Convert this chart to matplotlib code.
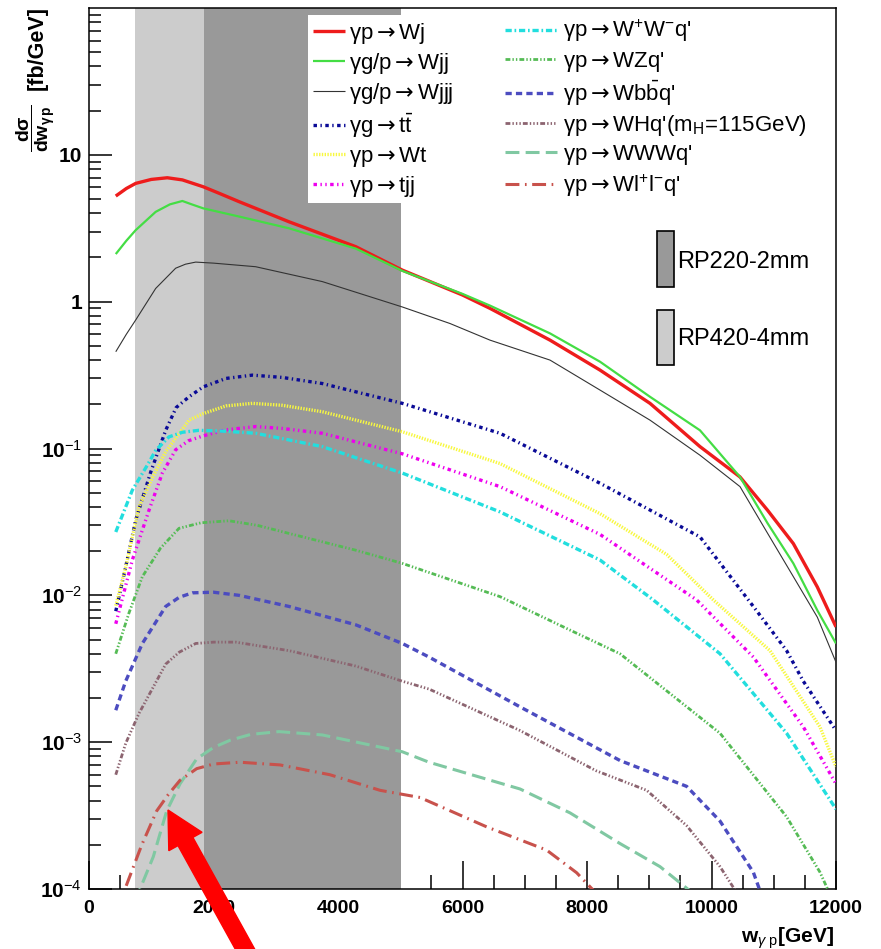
import matplotlib
matplotlib.use('Agg')
import matplotlib.pyplot as plt
from matplotlib.patches import Rectangle, FancyArrow
from matplotlib.transforms import IdentityTransform
from matplotlib.ticker import FixedLocator, FixedFormatter, MultipleLocator, LogLocator, NullFormatter

plt.rcParams['font.family'] = ['Liberation Sans', 'DejaVu Sans']
plt.rcParams['mathtext.fontset'] = 'custom'
plt.rcParams['mathtext.rm'] = 'Liberation Sans'
plt.rcParams['mathtext.it'] = 'Liberation Sans:italic'
plt.rcParams['mathtext.bf'] = 'Liberation Sans:bold'
plt.rcParams['mathtext.sf'] = 'DejaVu Sans'
plt.rcParams['lines.scale_dashes'] = False

# ---------------- data ----------------
w_wj = [430, 600, 750, 1000, 1258, 1500, 1836, 2100, 2410, 3213, 4284, 5034, 6000, 6442, 7406, 8209, 9012, 9815, 10458, 10900, 11315, 11700, 12000]
v_wj = [5.24, 5.9, 6.39, 6.8, 6.98, 6.75, 6.06, 5.45, 4.8, 3.50, 2.37, 1.64, 1.11, 0.90, 0.547, 0.342, 0.203, 0.103, 0.064, 0.038, 0.0225, 0.0114, 0.0061]

w_wjj = [430, 600, 750, 1071, 1300, 1500, 1650, 1836, 2410, 3213, 4284, 5034, 6000, 6442, 7406, 8209, 9012, 9815, 10458, 10900, 11315, 11700, 12000]
v_wjj = [2.11, 2.6, 3.07, 4.09, 4.6, 4.85, 4.6, 4.32, 3.8, 3.16, 2.30, 1.62, 1.13, 0.94, 0.608, 0.39, 0.225, 0.133, 0.064, 0.031, 0.0165, 0.0079, 0.0047]

w_wjjj = [430, 600, 750, 1071, 1392, 1550, 1714, 2000, 2677, 3748, 5034, 5799, 6442, 7406, 8209, 9012, 9815, 10458, 10900, 11315, 11700, 12000]
v_wjjj = [0.456, 0.6, 0.75, 1.23, 1.69, 1.80, 1.86, 1.83, 1.73, 1.37, 0.92, 0.71, 0.547, 0.40, 0.25, 0.156, 0.090, 0.055, 0.0265, 0.0134, 0.0071, 0.0035]

w_tt = [430, 589, 750, 991, 1232, 1400, 1607, 1836, 2200, 2624, 3100, 3748, 5034, 6602, 8209, 9815, 10672, 11207, 11475, 12000]
v_tt = [0.0078, 0.0156, 0.0325, 0.069, 0.133, 0.19, 0.225, 0.263, 0.30, 0.316, 0.305, 0.277, 0.203, 0.127, 0.058, 0.025, 0.0084, 0.0042, 0.0026, 0.0012]

w_wt = [430, 589, 803, 1017, 1232, 1607, 1836, 2200, 2624, 3100, 3748, 5034, 6602, 8209, 9280, 10030, 10940, 11743, 12000]
v_wt = [0.0085, 0.0155, 0.040, 0.063, 0.095, 0.156, 0.173, 0.195, 0.203, 0.197, 0.178, 0.130, 0.079, 0.036, 0.019, 0.0093, 0.0042, 0.00127, 0.00068]

w_tjj = [430, 696, 964, 1178, 1392, 1600, 1836, 2200, 2677, 3100, 3748, 5034, 6602, 8209, 9762, 10672, 11475, 12000]
v_tjj = [0.0064, 0.0174, 0.038, 0.068, 0.098, 0.113, 0.122, 0.134, 0.141, 0.137, 0.127, 0.092, 0.055, 0.026, 0.0093, 0.0038, 0.00127, 0.00052]

w_ww = [430, 696, 937, 1071, 1285, 1500, 1767, 2200, 2677, 3748, 5034, 6602, 8209, 9065, 10137, 11207, 12000]
v_ww = [0.027, 0.052, 0.077, 0.097, 0.120, 0.129, 0.133, 0.131, 0.127, 0.103, 0.068, 0.037, 0.0174, 0.0093, 0.0040, 0.00115, 0.00035]

w_wz = [430, 643, 857, 1150, 1446, 1800, 2249, 2700, 3213, 4284, 5034, 6602, 7727, 8530, 10137, 11207, 11743, 12100]
v_wz = [0.0040, 0.0076, 0.0134, 0.021, 0.0286, 0.0312, 0.0322, 0.030, 0.0264, 0.0203, 0.0165, 0.0098, 0.0058, 0.0040, 0.00115, 0.00031, 0.00013, 0.00006]

w_wbb = [430, 589, 857, 1232, 1450, 1660, 2000, 2410, 3213, 4284, 5034, 5462, 6924, 8530, 9601, 10137, 10672, 10900]
v_wbb = [0.00165, 0.0026, 0.0047, 0.0084, 0.0097, 0.0104, 0.0105, 0.0100, 0.0084, 0.0063, 0.0047, 0.0038, 0.00174, 0.00075, 0.00050, 0.00029, 0.00013, 0.00007]

w_wh = [430, 589, 803, 1232, 1450, 1714, 2000, 2356, 3213, 4284, 5034, 5462, 6924, 8142, 8959, 9601, 10137, 10600]
v_wh = [0.00060, 0.00098, 0.00157, 0.0034, 0.0041, 0.0047, 0.0048, 0.0048, 0.0042, 0.0033, 0.0026, 0.0023, 0.0012, 0.00064, 0.00047, 0.00027, 0.000142, 0.00007]

w_www = [700, 820, 1033, 1248, 1462, 1730, 2000, 2265, 2600, 3052, 3748, 5034, 5462, 6924, 7727, 8530, 9173, 9900]
v_www = [0.00006, 0.0001, 0.000166, 0.00034, 0.00052, 0.00077, 0.00092, 0.00103, 0.00113, 0.00118, 0.00112, 0.00086, 0.00073, 0.00048, 0.00033, 0.000204, 0.000142, 0.00008]

w_wll = [500, 578, 846, 1087, 1274, 1462, 1730, 2000, 2426, 3068, 3871, 4675, 5317, 6388, 7352, 7834, 8300]
v_wll = [0.00007, 0.0001, 0.000199, 0.00034, 0.00044, 0.00055, 0.00066, 0.00071, 0.00073, 0.00070, 0.00060, 0.00047, 0.00042, 0.000265, 0.000184, 0.000129, 0.00008]

ARR = r"$\mathsf{\rightarrow}$"
labels = ["γp" + ARR + "Wj", "γg/p" + ARR + "Wjj", "γg/p" + ARR + "Wjjj",
          "γg" + ARR + r"t$\mathrm{\bar{t}}$", "γp" + ARR + "Wt", "γp" + ARR + "tjj",
          "γp" + ARR + r"W$^{+}$W$^{-}$q'", "γp" + ARR + "WZq'", "γp" + ARR + r"Wb$\mathrm{\bar{b}}$q'",
          "γp" + ARR + r"WHq'(m$_{\mathrm{H}}$=115GeV)", "γp" + ARR + "WWWq'",
          "γp" + ARR + r"Wl$^{+}$l$^{-}$q'"]

band_rp420 = (740, 1840)
band_rp220 = (1840, 5020)

xtick_vals = [0, 2000, 4000, 6000, 8000, 10000, 12000]
xtick_labels = ['0', '2000', '4000', '6000', '8000', '10000', '12000']
ytick_vals = [1e-4, 1e-3, 1e-2, 1e-1, 1, 10]
ytick_labels = [r'10$^{-4}$', r'10$^{-3}$', r'10$^{-2}$', r'10$^{-1}$', '1', '10']

# ---------------- figure ----------------
W, H = 881, 949
fig = plt.figure(figsize=(W / 100, H / 100), dpi=100)
ax = fig.add_axes([89 / W, 1 - 889 / H, (836 - 89) / W, (889 - 8) / H])
ax.set_yscale('log')
ax.set_xlim(0, 12000)
ax.set_ylim(1e-4, 100)

ax.axvspan(*band_rp420, color='#cccccc', lw=0, zorder=1.6)
ax.axvspan(*band_rp220, color='#999999', lw=0, zorder=2.6)

series = [
    (w_wj, v_wj, '#ee1c1c', 2.4, None),
    (w_wjj, v_wjj, '#44dd44', 1.6, None),
    (w_wjjj, v_wjjj, '#333333', 0.8, None),
    (w_tt, v_tt, '#0a0a96', 2.4, (2.5, 2.5, 1.0, 2.5)),
    (w_wt, v_wt, '#f8f840', 2.4, (1.0, 1.0)),
    (w_tjj, v_tjj, '#ee00ee', 2.4, (2.5, 2.5, 1.0, 2.5, 1.0, 2.5)),
    (w_ww, v_ww, '#22dede', 2.4, (4.5, 2.0, 1.2, 2.0)),
    (w_wz, v_wz, '#55bb55', 2.0, (3.5, 1.5, 1.0, 1.5, 1.0, 1.5)),
    (w_wbb, v_wbb, '#4c4cc0', 2.4, (4.5, 3.0)),
    (w_wh, v_wh, '#8c6470', 2.0, (3.5, 1.5, 1.0, 1.5, 1.0, 1.5, 1.0, 1.5)),
    (w_www, v_www, '#80c8a2', 2.2, (10.0, 4.5)),
    (w_wll, v_wll, '#c8524c', 2.2, (10.0, 4.0, 1.2, 4.0)),
]

handles = []
for (w, v, c, lw, ds), lab in zip(series, labels):
    kw = dict(color=c, lw=lw, zorder=3, solid_capstyle='butt', dash_capstyle='butt',
              solid_joinstyle='round', label=lab)
    if ds is not None:
        kw['dashes'] = ds
    ln, = ax.plot(w, v, **kw)
    handles.append(ln)

# ticks
ax.xaxis.set_major_locator(FixedLocator(xtick_vals))
ax.xaxis.set_major_formatter(FixedFormatter(xtick_labels))
ax.xaxis.set_minor_locator(MultipleLocator(500))
ax.yaxis.set_major_locator(FixedLocator(ytick_vals))
ax.yaxis.set_major_formatter(FixedFormatter(ytick_labels))
ax.yaxis.set_minor_locator(LogLocator(base=10, subs=range(2, 10), numticks=20))
ax.yaxis.set_minor_formatter(NullFormatter())
ax.tick_params(axis='x', which='major', direction='in', length=20, width=1.1, pad=8, labelsize=14)
ax.tick_params(axis='x', which='minor', direction='in', length=10, width=1.1)
ax.tick_params(axis='y', which='major', direction='in', length=16.5, width=1.1, pad=5, labelsize=15)
ax.tick_params(axis='y', which='minor', direction='in', length=8.5, width=1.1)
ax.tick_params(top=False, right=False, which='both')
for lab in ax.get_xticklabels() + ax.get_yticklabels():
    lab.set_fontweight('bold')
for sp in ax.spines.values():
    sp.set_linewidth(1.1)
    sp.set_zorder(2.7)

# axis titles
fig.text(834 / W, 1 - 938 / H, r'w$_{\gamma\ \mathrm{p}}$[GeV]', ha='right', va='center',
         fontsize=15, fontweight='bold')
fig.text(37 / W, 1 - 6 / H, '[fb/GeV]', rotation=90, ha='center', va='top',
         fontsize=15.5, fontweight='bold')
fig.text(36 / W, 1 - 128 / H, r'$\dfrac{\mathbf{d\sigma}}{\mathbf{dw_{\gamma\,p}}}$',
         rotation=90, ha='center', va='center', fontsize=14, fontweight='bold')

# legend background (inside the axes, above the bands)
pix = IdentityTransform()
ax.add_patch(Rectangle((308, H - 203), 834 - 308, 203 - 15, transform=pix,
                       facecolor='white', edgecolor='none', zorder=2.65, clip_on=False))
leg1 = ax.legend(handles=handles[:6], loc='upper left', bbox_to_anchor=(313, H - 21),
                 bbox_transform=pix, frameon=False, fontsize=16, borderpad=0,
                 handlelength=1.45, handletextpad=0.15, labelspacing=0.23, borderaxespad=0)
leg1.set_zorder(6)
ax.add_artist(leg1)
leg2 = ax.legend(handles=handles[6:], loc='upper left', bbox_to_anchor=(505, H - 18),
                 bbox_transform=pix, frameon=False, fontsize=16, borderpad=0,
                 handlelength=2.35, handletextpad=0.25, labelspacing=0.23, borderaxespad=0)
leg2.set_zorder(6)

# RP boxes
fig.add_artist(Rectangle((657, H - 287), 17, 56, transform=pix, facecolor='#999999',
                         edgecolor='black', lw=1.2, zorder=6))
fig.add_artist(Rectangle((657, H - 365), 17, 55, transform=pix, facecolor='#cccccc',
                         edgecolor='black', lw=1.2, zorder=6))
fig.text(677 / W, 1 - 262 / H, 'RP220-2mm', ha='left', va='center', fontsize=17, zorder=7)
fig.text(677 / W, 1 - 339 / H, 'RP420-4mm', ha='left', va='center', fontsize=17, zorder=7)

# red arrow
arrow = FancyArrow(251, -11, 168 - 251, (H - 810) - (-11), width=17, head_width=38,
                   head_length=36, length_includes_head=True, color='#ff0000',
                   transform=pix, zorder=10, clip_on=False)
fig.add_artist(arrow)

fig.savefig('out.png', dpi=100)
